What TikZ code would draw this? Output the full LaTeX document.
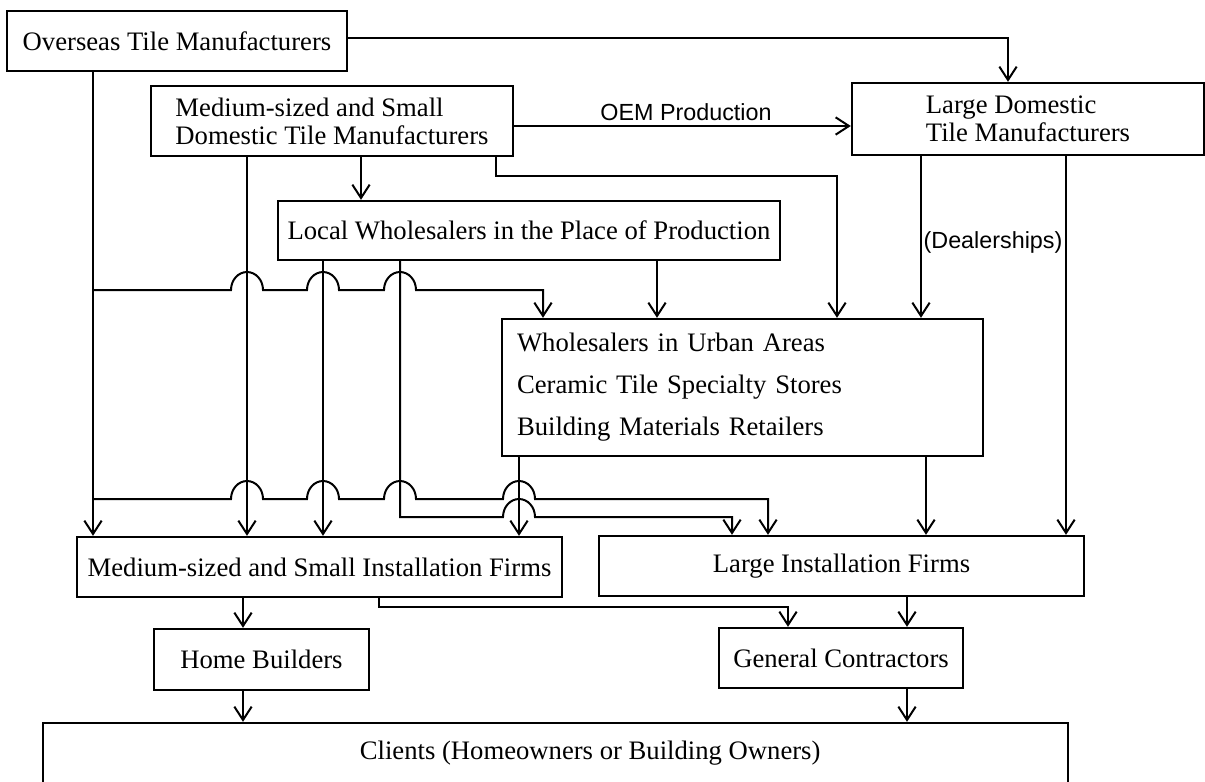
\documentclass[tikz,border=0pt]{standalone}
\usepackage{fontspec}
\setmainfont{Liberation Serif}
\setsansfont{Liberation Sans}
\usetikzlibrary{arrows.meta}

\tikzset{every picture/.style={line width=1.5pt}}
\tikzset{
box/.style={draw, line width=1.8pt, inner sep=0pt, font=\fontsize{20}{21}\selectfont},
conn/.style={-{Straight Barb[length=10pt,width=13pt]}},
lbl/.style={inner sep=0.75pt, font=\sffamily\fontsize{17.5}{19}\selectfont}}

\begin{document}
\begin{tikzpicture}[x=0.75pt,y=0.75pt,yscale=-1,xscale=1]
\useasboundingbox (0,0) rectangle (1205,781);

%Shape: Rectangle (suppliers)
\node [box, minimum width=255pt, minimum height=45pt] (ovs) at (177,41) {Overseas Tile Manufacturers};
\node [box, minimum width=271.5pt, minimum height=52.5pt, align=left] (msd) at (332,121) {Medium-sized and Small\\Domestic Tile Manufacturers};
\node [box, minimum width=264pt, minimum height=54pt, align=left] (ldm) at (1028,119) {Large Domestic\\Tile Manufacturers};
%Shape: Rectangle (dealers)
\node [box, minimum width=376.5pt, minimum height=44.25pt] (loc) at (529,230.5) {Local Wholesalers in the Place of Production};
\node [box, minimum width=360.75pt, minimum height=102.75pt, text width=338.25pt, align=left, font=\fontsize{20}{31.5}\selectfont] (urb) at (742.5,387.5) {Wholesalers in Urban Areas\\Ceramic Tile Specialty Stores\\Building Materials Retailers};
%Shape: Rectangle (installers)
\node [box, minimum width=363.75pt, minimum height=45pt] (msi) at (319.5,567) {Medium-sized and Small Installation Firms};
\node [box, minimum width=363.75pt, minimum height=45pt] (lif) at (841.5,566) {Large Installation Firms};
\node [box, minimum width=161.25pt, minimum height=45.75pt] (hom) at (261.5,659.5) {Home Builders};
\node [box, minimum width=183pt, minimum height=45pt] (gen) at (841,658) {General Contractors};
\node [box, minimum width=768.75pt, minimum height=45pt] (cli) at (555.5,753) {\hspace*{52pt}Clients (Homeowners or Building Owners)};

%lanes and rails of the connectors
\coordinate (lOv) at (93,0);
\coordinate (lOvL) at (1008,0);
\coordinate (lMd) at (247,0);
\coordinate (lMl) at (361,0);
\coordinate (lMu) at (496,0);
\coordinate (lMu2) at (837,0);
\coordinate (lLm) at (323,0);
\coordinate (lLi) at (400,0);
\coordinate (lLi2) at (732,0);
\coordinate (lLu) at (657,0);
\coordinate (lOu) at (543,0);
\coordinate (lOi) at (768,0);
\coordinate (lDu) at (921,0);
\coordinate (lDi) at (1066,0);
\coordinate (lUm) at (519,0);
\coordinate (lUi) at (926,0);
\coordinate (lSh) at (243,0);
\coordinate (lSg) at (379,0);
\coordinate (lSg2) at (788,0);
\coordinate (lIg) at (907,0);
\coordinate (yOv) at (0,38);
\coordinate (yOem) at (0,126);
\coordinate (yMu) at (0,176);
\coordinate (yHa) at (0,290);
\coordinate (yHb) at (0,499);
\coordinate (yHc) at (0,517);
\coordinate (yMg) at (0,607);
\coordinate (jA) at (lOv |- yHa);
\coordinate (jB) at (lOv |- yHb);

%Straight Lines
\draw [conn] (ovs.east |- yOv) -| (ldm.north -| lOvL);
\draw [conn] (ovs.south -| lOv) -- (msi.north -| lOv);
\draw [conn] (msd.east |- yOem) -- (ldm.west |- yOem);
\draw [conn] (msd.south -| lMd) -- (msi.north -| lMd);
\draw [conn] (msd.south -| lMl) -- (loc.north -| lMl);
\draw [conn] (msd.south -| lMu) |- (lMu2 |- yMu) -- (urb.north -| lMu2);
\draw [conn] (loc.south -| lLm) -- (msi.north -| lLm);
\draw [conn] (loc.south -| lLu) -- (urb.north -| lLu);
\draw [conn] (ldm.south -| lDu) -- (urb.north -| lDu);
\draw [conn] (ldm.south -| lDi) -- (lif.north -| lDi);
\draw [conn] (urb.south -| lUm) -- (msi.north -| lUm);
\draw [conn] (urb.south -| lUi) -- (lif.north -| lUi);
\draw [conn] (msi.south -| lSh) -- (hom.north -| lSh);
\draw [conn] (hom.south -| lSh) -- (cli.north -| lSh);
\draw [conn] (msi.south -| lSg) |- (lSg2 |- yMg) -- (gen.north -| lSg2);
\draw [conn] (lif.south -| lIg) -- (gen.north -| lIg);
\draw [conn] (gen.south -| lIg) -- (cli.north -| lIg);

%Lines with hops
\draw [conn] (jA) -- (231,290) arc[start angle=180,end angle=360,x radius=16,y radius=18] -- (307,290) arc[start angle=180,end angle=360,x radius=16,y radius=18] -- (384,290) arc[start angle=180,end angle=360,x radius=16,y radius=18] -- (lOu |- yHa) -- (urb.north -| lOu);
\draw [conn] (jB) -- (231,499) arc[start angle=180,end angle=360,x radius=16,y radius=18] -- (307,499) arc[start angle=180,end angle=360,x radius=16,y radius=18] -- (384,499) arc[start angle=180,end angle=360,x radius=16,y radius=18] -- (503,499) arc[start angle=180,end angle=360,x radius=16,y radius=18] -- (lOi |- yHb) -- (lif.north -| lOi);
\draw [conn] (loc.south -| lLi) -- (lLi |- yHc) -- (503,517) arc[start angle=180,end angle=360,x radius=16,y radius=18] -- (lLi2 |- yHc) -- (lif.north -| lLi2);

% Text Node
\node [lbl] (oem) at (686,112) {OEM Production};
% Text Node
\node [lbl] (dlr) at (993,242) {(Dealerships)};

\end{tikzpicture}
\end{document}
